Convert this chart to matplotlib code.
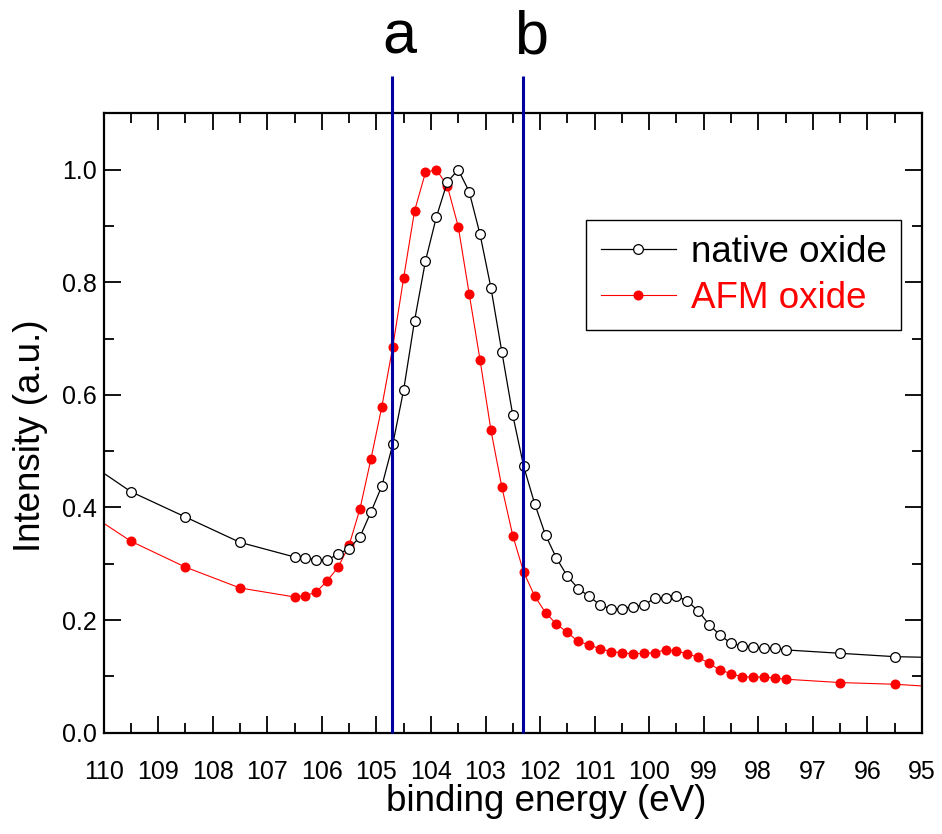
import matplotlib
matplotlib.use("Agg")
import matplotlib.pyplot as plt
from matplotlib.ticker import MultipleLocator

plt.rcParams["font.family"] = ["Liberation Sans", "DejaVu Sans"]

# binding energies (eV), step 0.2 in the peak region
energia = [110.5, 109.5, 108.5, 107.5,
           106.5, 106.3, 106.1, 105.9, 105.7, 105.5, 105.3, 105.1, 104.9, 104.7,
           104.5, 104.3, 104.1, 103.9, 103.7, 103.5, 103.3, 103.1, 102.9, 102.7,
           102.5, 102.3, 102.1, 101.9, 101.7, 101.5, 101.3, 101.1, 100.9, 100.7,
           100.5, 100.3, 100.1, 99.9, 99.7, 99.5, 99.3, 99.1, 98.9, 98.7,
           98.5, 98.3, 98.1, 97.9, 97.7, 97.5, 96.5, 95.5, 94.5]

native = [0.494, 0.428, 0.383, 0.338,
          0.312, 0.310, 0.307, 0.307, 0.317, 0.327, 0.348, 0.392, 0.438, 0.512,
          0.609, 0.732, 0.838, 0.916, 0.978, 1.000, 0.961, 0.885, 0.790, 0.676,
          0.564, 0.473, 0.407, 0.351, 0.310, 0.278, 0.256, 0.242, 0.227, 0.220,
          0.220, 0.224, 0.226, 0.239, 0.239, 0.242, 0.234, 0.216, 0.192, 0.173,
          0.159, 0.154, 0.153, 0.150, 0.150, 0.147, 0.141, 0.135, 0.133]

afm = [0.404, 0.340, 0.294, 0.257,
       0.241, 0.243, 0.250, 0.270, 0.294, 0.333, 0.398, 0.486, 0.579, 0.685,
       0.808, 0.927, 0.995, 1.000, 0.971, 0.899, 0.780, 0.662, 0.537, 0.436,
       0.350, 0.285, 0.243, 0.213, 0.193, 0.178, 0.162, 0.156, 0.149, 0.144,
       0.142, 0.140, 0.141, 0.142, 0.147, 0.145, 0.140, 0.134, 0.123, 0.111,
       0.105, 0.099, 0.099, 0.099, 0.097, 0.095, 0.089, 0.086, 0.080]

# positions of the marked energies a and b
marcas = {"a": 104.72, "b": 102.31}

fig = plt.figure(figsize=(9.42, 8.34), dpi=100)
ax = fig.add_axes([0.110, 0.1215, 0.8687, 0.7426])

ax.plot(energia, native, color="black", linewidth=0.9, marker="o",
        markersize=7, markerfacecolor="white", markeredgecolor="black",
        markeredgewidth=0.9, label="native oxide", zorder=3)
ax.plot(energia, afm, color="red", linewidth=0.8, marker="o",
        markersize=6.2, markerfacecolor="red", markeredgecolor="red",
        label="AFM oxide", zorder=2)

for nombre, e in marcas.items():
    ax.vlines(e, 0, 1.167, color="#0000A0", linewidth=2.2, clip_on=False, zorder=4)
    ax.text(e - 0.14, 1.207, nombre, fontsize=44, ha="center", va="baseline",
            transform=ax.transData)

ax.set_xlim(110, 95)
ax.set_ylim(0, 1.1)
ax.xaxis.set_major_locator(MultipleLocator(1))
ax.xaxis.set_minor_locator(MultipleLocator(0.5))
ax.yaxis.set_major_locator(MultipleLocator(0.2))
ax.yaxis.set_minor_locator(MultipleLocator(0.1))
ax.yaxis.set_major_formatter(plt.FuncFormatter(lambda v, _: f"{v:.1f}"))

ax.tick_params(which="both", direction="in", top=True, right=True, width=1.3)
ax.tick_params(which="major", length=12, labelsize=18)
ax.tick_params(which="minor", length=7)
ax.tick_params(axis="x", which="major", pad=20)
ax.tick_params(axis="y", which="major", pad=5)
for s in ax.spines.values():
    s.set_linewidth(1.6)

ax.set_xlabel("binding energy (eV)", fontsize=26.5)
ax.set_ylabel("Intensity (a.u.)", fontsize=26.5)
ax.xaxis.set_label_coords(0.541, -0.083)
ax.yaxis.set_label_coords(-0.068, 0.48)

leg = ax.legend(loc="upper right", bbox_to_anchor=(0.975, 0.828),
                borderaxespad=0, fontsize=26.5, handlelength=2.05,
                handletextpad=0.4, labelspacing=0.3, fancybox=False,
                edgecolor="black", framealpha=1, borderpad=0.4)
leg.get_frame().set_linewidth(1.0)
leg.get_texts()[1].set_color("red")

fig.savefig("out.png", dpi=100)
